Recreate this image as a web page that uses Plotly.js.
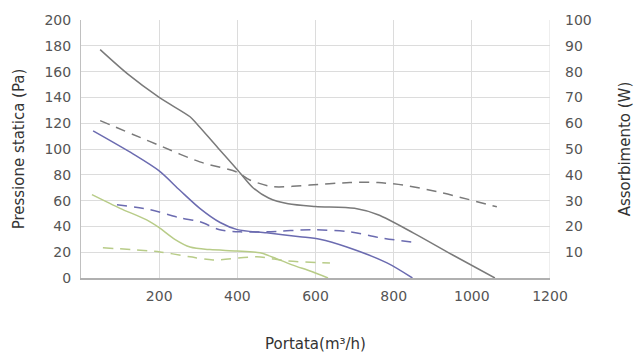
<!DOCTYPE html>
<html>
<head>
<meta charset="utf-8">
<script src="https://cdn.plot.ly/plotly-3.0.1.min.js"></script>
<style>html,body{margin:0;padding:0;background:#fff;}#chart{width:636px;height:358px;}</style>
</head>
<body>
<div id="chart"></div>
<script>
// Pressure curves (left axis, Pa)
const grayPressX = [49, 120, 200, 279, 295, 350, 400, 440, 480, 530, 600, 700, 760, 850, 950, 1059];
const grayPressY = [177, 158, 140, 125, 120, 101, 84, 70, 62, 57.5, 55.5, 54, 49, 35, 18, 0];
const bluePressX = [31, 134, 200, 253, 304, 356, 400, 475, 560, 611, 680, 783, 848];
const bluePressY = [114, 96, 83, 68, 54, 43, 37.5, 35, 32, 30, 24, 11.7, 0];
const greenPressX = [28, 100, 168, 200, 240, 279, 330, 399, 458, 500, 542, 590, 632];
const greenPressY = [64.6, 54, 45, 39, 30, 24, 22, 21, 19.5, 15, 10, 5, 0];
// Power curves (right axis, W)
const grayPowX = [49, 151, 200, 304, 400, 432, 491, 585, 688, 760, 824, 910, 1064];
const grayPowY = [61, 54.5, 51.4, 45, 41, 38, 35.4, 36, 37, 37, 36, 33.5, 27.6];
const bluePowX = [92, 176, 253, 304, 355, 407, 475, 594, 688, 765, 852];
const bluePowY = [28.4, 26.5, 23.3, 21.8, 18.7, 17.9, 17.9, 18.7, 17.9, 15.6, 13.8];
const greenPowX = [56, 202, 279, 338, 450, 527, 637];
const greenPowY = [11.7, 10.1, 8.2, 7, 8.2, 6.6, 5.8];

const xTicks = [200, 400, 600, 800, 1000, 1200];
const yTicks = [0, 20, 40, 60, 80, 100, 120, 140, 160, 180, 200];
const y2Ticks = [10, 20, 30, 40, 50, 60, 70, 80, 90, 100];

const cGray = '#7a7a7a', cBlue = '#6b6bb0', cGreen = '#b8cc88';
const dash = '10px,7px';

function tr(x, y, color, isDash, axis) {
  return {x: x, y: y, type: 'scatter', mode: 'lines', yaxis: axis,
    line: {color: color, width: 1.5, shape: 'spline', smoothing: 0.8, dash: isDash ? dash : 'solid'},
    hoverinfo: 'skip', showlegend: false};
}

const data = [
  tr(grayPowX, grayPowY, cGray, true, 'y2'),
  tr(bluePowX, bluePowY, cBlue, true, 'y2'),
  tr(greenPowX, greenPowY, cGreen, true, 'y2'),
  tr(grayPressX, grayPressY, cGray, false, 'y'),
  tr(bluePressX, bluePressY, cBlue, false, 'y'),
  tr(greenPressX, greenPressY, cGreen, false, 'y')
];

const tickFont = {family: 'DejaVu Sans', size: 14, color: '#555'};
const titleFont = {family: 'DejaVu Sans', size: 15, color: '#333'};

const layout = {
  width: 636, height: 358,
  margin: {l: 81, r: 86, t: 20, b: 80},
  paper_bgcolor: '#fff', plot_bgcolor: '#fff',
  xaxis: {range: [0, 1200], tickvals: xTicks, ticktext: xTicks.map(String),
    showgrid: true, gridcolor: '#dcdcdc', gridwidth: 1, zeroline: false,
    showline: true, linecolor: '#b0b0b0', linewidth: 2, ticks: '', ticklabelstandoff: 4,
    tickfont: tickFont, title: {text: 'Portata(m³/h)', font: titleFont, standoff: 36}},
  yaxis: {range: [0, 200], tickvals: yTicks, ticktext: yTicks.map(String),
    showgrid: true, gridcolor: '#dcdcdc', gridwidth: 1, zeroline: false,
    showline: true, linecolor: '#c0c0c0', linewidth: 1, ticks: '', ticklabelstandoff: 6,
    tickfont: tickFont, title: {text: 'Pressione statica (Pa)', font: titleFont, standoff: 16}},
  yaxis2: {range: [0, 100], overlaying: 'y', side: 'right', tickvals: y2Ticks, ticktext: y2Ticks.map(String),
    showgrid: false, zeroline: false, showline: false, ticks: '', ticklabelstandoff: 14,
    tickfont: tickFont, title: {text: 'Assorbimento (W)', font: titleFont, standoff: 28}},
  shapes: [{type: 'line', xref: 'x', yref: 'paper', x0: 1200, x1: 1200, y0: 0, y1: 1,
    line: {color: '#dcdcdc', width: 1}}]
};

Plotly.newPlot('chart', data, layout, {staticPlot: true, displayModeBar: false});
</script>
</body>
</html>
